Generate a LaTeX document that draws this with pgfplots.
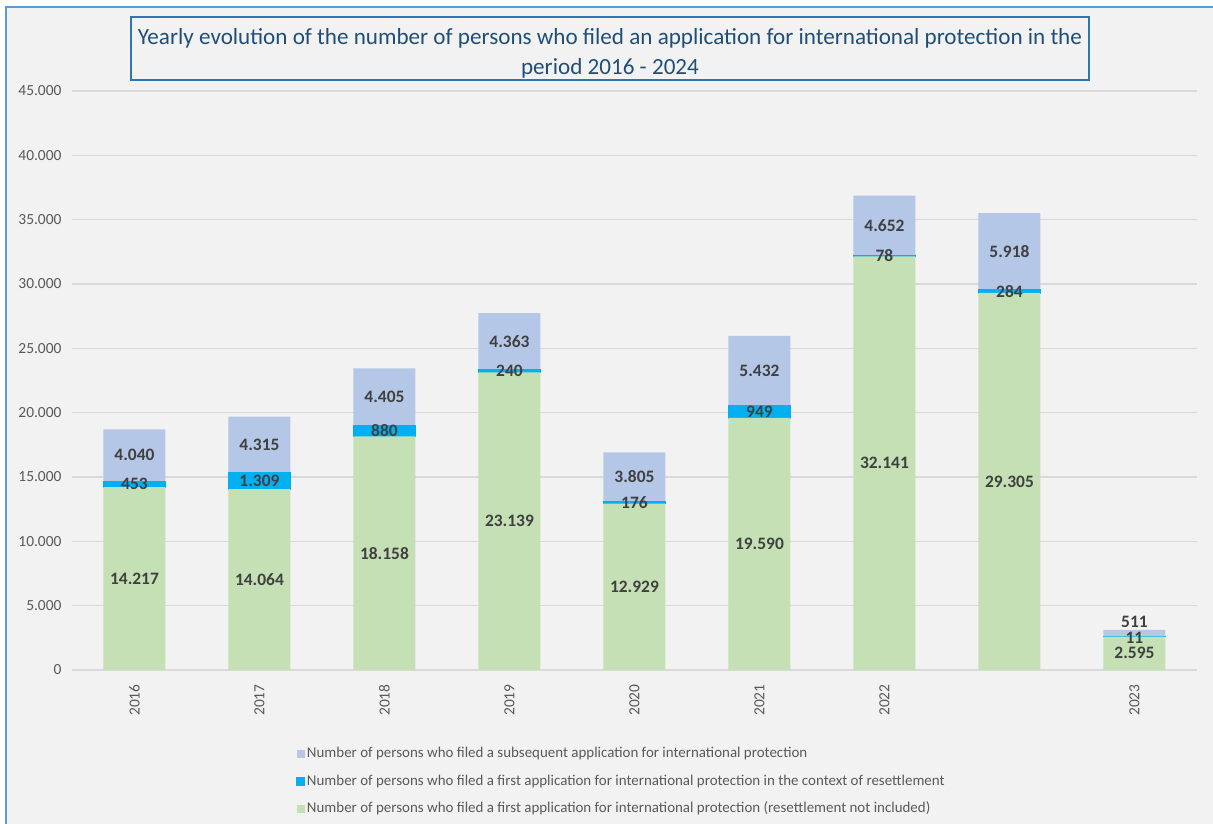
\documentclass[border=0pt]{standalone}
\usepackage{pgfplots}
\pgfplotsset{compat=1.18}
\usepackage{pgfplotstable}
\usepackage{fontspec}
\setmainfont{Carlito}
\definecolor{bg}{HTML}{F2F2F2}
\definecolor{gridc}{HTML}{D9D9D9}
\definecolor{firstg}{HTML}{C5E0B4}
\definecolor{resett}{HTML}{00B0F0}
\definecolor{subseq}{HTML}{B4C7E7}
\definecolor{labc}{HTML}{404040}
\definecolor{tickc}{HTML}{595959}
\definecolor{titlec}{HTML}{1F4E79}
\definecolor{framec}{HTML}{2E75B6}
\definecolor{outerc}{HTML}{5B9BD5}

% persons per year: first (no resettlement), first in resettlement, subsequent
\pgfplotstableread{
x first resettle subsequent
0 14217 453 4040
1 14064 1309 4315
2 18158 880 4405
3 23139 240 4363
4 12929 176 3805
5 19590 949 5432
6 32141 78 4652
7 29305 284 5918
8 2595 11 511
}\apps

% label positions (middle of each segment)
\pgfplotstableread{
x y lab
0 7108 14.217
0 14443 453
0 16690 4.040
1 7032 14.064
1 14718 1.309
1 17530 4.315
2 9079 18.158
2 18598 880
2 21240 4.405
3 11570 23.139
3 23259 240
3 25560 4.363
4 6465 12.929
4 13017 176
4 15008 3.805
5 9795 19.590
5 20064 949
5 23255 5.432
6 16070 32.141
6 32180 78
6 34545 4.652
7 14652 29.305
7 29447 284
7 32548 5.918
8 1300 2.595
8 2520 11
8 3760 511
}\labs

\pgfplotsset{
  frame/.style={at={(72bp,154bp)}, anchor=south west, scale only axis,
    width=1125bp, height=579bp, xmin=-0.5, xmax=8.5, ymin=0, ymax=45000},
}

\begin{document}
\begin{tikzpicture}
\useasboundingbox (0,0) rectangle (1213bp,824bp);
\fill[white] (0,0) rectangle (1213bp,824bp);
\fill[bg] (6bp,0) rectangle (1213bp,817bp);
\draw[outerc, line width=1.3bp] (6bp,0) -- (6bp,817bp) -- (1213bp,817bp);

\begin{axis}[frame,
  ybar stacked, bar width=62bp,
  axis line style={draw=none},
  major tick length=0pt,
  xtick={0,...,8},
  xticklabels={2016,2017,2018,2019,2020,2021,2022,,2023},
  ytick={0,5000,...,45000},
  scaled y ticks=false,
  ymajorgrids, grid style={gridc, line width=1.2bp},
  yticklabel style={font=\fontsize{15.5}{18}\selectfont, text=tickc,
    /pgf/number format/1000 sep={.}, /pgf/number format/assume math mode=true},
  yticklabel shift=7bp,
  xticklabel style={font=\fontsize{15.5}{18}\selectfont, text=tickc,
    rotate=90, anchor=east},
  xticklabel shift=11bp,
  reverse legend,
  legend image code/.code={\fill[#1] (0bp,-4bp) rectangle (8bp,4bp);},
  legend style={at={(0.1991,-0.1287)}, anchor=north west, draw=none, fill=none,
    inner sep=0pt, font=\fontsize{15}{17}\selectfont, text=tickc,
    row sep=9bp, nodes={inner sep=2bp, text height=11bp, text depth=3.5bp}},
  legend cell align=left,
]
\addplot[fill=firstg, draw=none] table[x=x, y=first] {\apps};
\addplot[fill=resett, draw=resett, line width=0.8bp] table[x=x, y=resettle] {\apps};
\addplot[fill=subseq, draw=none] table[x=x, y=subsequent] {\apps};
\legend{Number of persons who filed a first application for international protection (resettlement not included),
  Number of persons who filed a first application for international protection in the context of resettlement,
  Number of persons who filed a subsequent application for international protection}
\end{axis}

\begin{axis}[frame, hide axis]
\addplot[only marks, mark=none, nodes near coords, point meta=explicit symbolic,
  every node near coord/.append style={anchor=center, inner sep=0pt,
    font=\bfseries\fontsize{17.5}{20}\selectfont, text=labc}]
  table[x=x, y=y, meta=lab] {\labs};
\end{axis}

\draw[framec, line width=1.3bp, fill=bg] (131bp,744bp) rectangle (1089bp,807bp);
\node[align=center, text=titlec, font=\fontsize{23.2}{30}\selectfont]
  at (610bp,771bp) {Yearly evolution of the number of persons who filed an application for international protection in the\\period 2016 - 2024};
\end{tikzpicture}
\end{document}
